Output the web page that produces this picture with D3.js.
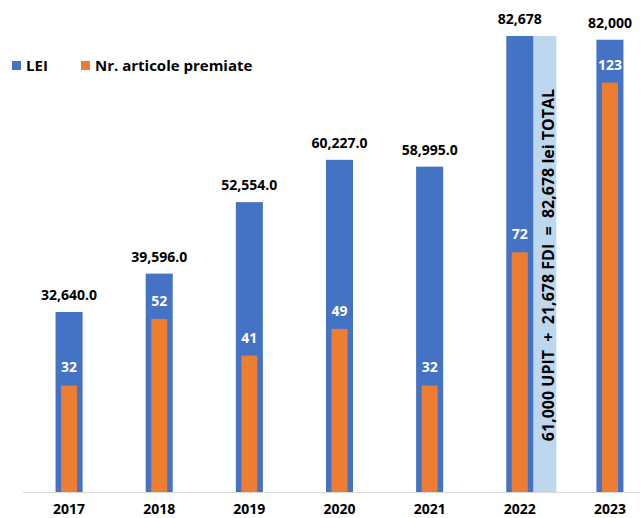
<!DOCTYPE html>
<html>
<head>
<meta charset="utf-8">
<script src="https://cdn.jsdelivr.net/npm/d3@7"></script>
<style>
  body { margin: 0; background: #fff; }
  text { font-family: "Open Sans", sans-serif; font-weight: bold; }
</style>
</head>
<body>
<svg width="644" height="518"></svg>
<script>
// values
var years = ["2017", "2018", "2019", "2020", "2021", "2022", "2023"];
var lei = [32640, 39596, 52554, 60227, 58995, 82678, 82000];
var leiLabels = ["32,640.0", "39,596.0", "52,554.0", "60,227.0", "58,995.0", "82,678", "82,000"];
var articole = [32, 52, 41, 49, 32, 72, 123];
var noteYear = "2022";
var noteTotal = 82678;
var noteText = "61,000 UPIT  +  21,678 FDI  =  82,678 lei TOTAL";

var blue = "#4472C4", orange = "#ED7D31", lightBlue = "#BDD7EE";

var svg = d3.select("svg");
var baseY = 492, topY = 36;

var x = d3.scaleBand().domain(years).range([24, 655])
    .paddingInner(0.7).paddingOuter(0.35);
var y = d3.scaleLinear().domain([0, 82678]).range([baseY, topY]);
var y2 = d3.scaleLinear().domain([0, 137]).range([baseY, topY]);

var rows = years.map(function(d, i) {
  return {year: d, lei: lei[i], label: leiLabels[i], art: articole[i]};
});

// axis line + year labels
var axis = svg.append("g").attr("transform", "translate(0," + baseY + ")")
  .call(d3.axisBottom(x).tickSize(0).tickPadding(12));
axis.select(".domain").attr("stroke", "#D9D9D9").attr("d", "M23,0.5H640");
axis.selectAll("text").attr("font-size", 14).attr("fill", "#000")
  .style("font-family", "Open Sans").style("font-weight", "bold");

// light blue note bar next to 2022
var bw = x.bandwidth();
svg.append("rect")
  .attr("x", x(noteYear) + bw)
  .attr("y", y(noteTotal))
  .attr("width", 23)
  .attr("height", baseY - y(noteTotal))
  .attr("fill", lightBlue);

svg.append("text")
  .attr("transform", "translate(" + (x(noteYear) + bw + 21) + "," + ((baseY + y(noteTotal)) / 2 + 1) + ") rotate(-90)")
  .attr("text-anchor", "middle")
  .attr("font-size", 16)
  .attr("fill", "#000")
  .style("white-space", "pre")
  .text(noteText);

// LEI bars
svg.selectAll(".lei").data(rows).enter().append("rect")
  .attr("class", "lei")
  .attr("x", function(d) { return x(d.year); })
  .attr("y", function(d) { return y(d.lei); })
  .attr("width", bw)
  .attr("height", function(d) { return baseY - y(d.lei); })
  .attr("fill", blue);

// articole bars
var ow = 16;
svg.selectAll(".art").data(rows).enter().append("rect")
  .attr("class", "art")
  .attr("x", function(d) { return x(d.year) + (bw - ow) / 2; })
  .attr("y", function(d) { return y2(d.art); })
  .attr("width", ow)
  .attr("height", function(d) { return baseY - y2(d.art); })
  .attr("fill", orange);

// labels
svg.selectAll(".leiLabel").data(rows).enter().append("text")
  .attr("x", function(d) { return x(d.year) + bw / 2; })
  .attr("y", function(d) { return y(d.lei) - 12; })
  .attr("text-anchor", "middle")
  .attr("font-size", 14)
  .attr("fill", "#000")
  .text(function(d) { return d.label; });

svg.selectAll(".artLabel").data(rows).enter().append("text")
  .attr("x", function(d) { return x(d.year) + bw / 2; })
  .attr("y", function(d) { return y2(d.art) - 13; })
  .attr("text-anchor", "middle")
  .attr("font-size", 14)
  .attr("fill", "#fff")
  .text(function(d) { return d.art; });

// legend
var legend = [{name: "LEI", color: blue, x: 12}, {name: "Nr. articole premiate", color: orange, x: 81}];
var lg = svg.selectAll(".lg").data(legend).enter().append("g")
  .attr("transform", function(d) { return "translate(" + d.x + ",61)"; });
lg.append("rect").attr("width", 9).attr("height", 9).attr("fill", function(d) { return d.color; });
lg.append("text").attr("x", 14).attr("y", 10).attr("font-size", 15).attr("fill", "#000")
  .text(function(d) { return d.name; });
</script>
</body>
</html>
